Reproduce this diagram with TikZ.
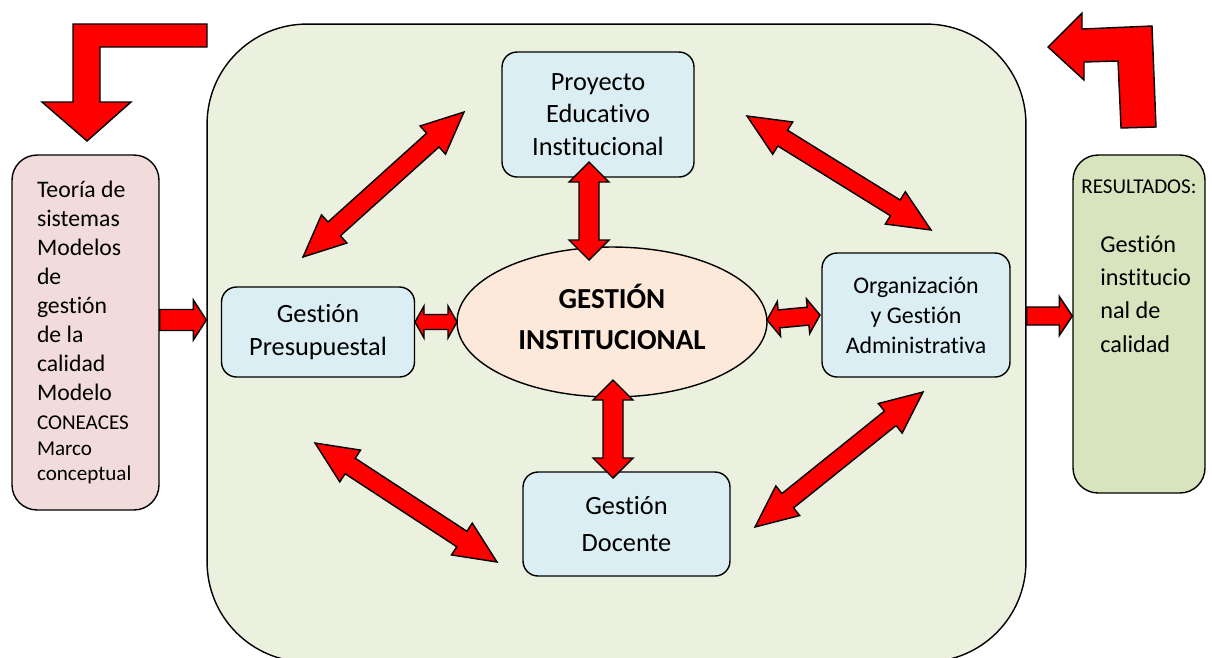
\documentclass[tikz,border=0pt]{standalone}
\usepackage{fontspec}
\setmainfont{Carlito}[Ligatures=NoCommon]
\usetikzlibrary{calc,shapes.geometric}
\definecolor{panel}{HTML}{EBF1DE}
\definecolor{unitblue}{HTML}{DAEEF3}
\definecolor{corepeach}{HTML}{FDE9D9}
\definecolor{inpink}{HTML}{F2DCDB}
\definecolor{outgreen}{HTML}{D7E4BD}
\definecolor{arrred}{HTML}{FF0000}

% block arrow with a head at both ends: ends, head length, half head, half shaft
\newcommand{\twoway}[5]{%
  \draw[blk] (#1)
    -- ($(#1)!#3!(#2)!#4!90:(#2)$) -- ($(#1)!#3!(#2)!#5!90:(#2)$)
    -- ($(#2)!#3!(#1)!#5!-90:(#1)$) -- ($(#2)!#3!(#1)!#4!-90:(#1)$)
    -- (#2)
    -- ($(#2)!#3!(#1)!#4!90:(#1)$) -- ($(#2)!#3!(#1)!#5!90:(#1)$)
    -- ($(#1)!#3!(#2)!#5!-90:(#2)$) -- ($(#1)!#3!(#2)!#4!-90:(#2)$)
    -- cycle;}
% block arrow with one head, at the second end
\newcommand{\oneway}[5]{%
  \draw[blk] ($(#1)!#5!90:(#2)$)
    -- ($(#2)!#3!(#1)!#5!-90:(#1)$) -- ($(#2)!#3!(#1)!#4!-90:(#1)$)
    -- (#2)
    -- ($(#2)!#3!(#1)!#4!90:(#1)$) -- ($(#2)!#3!(#1)!#5!90:(#1)$)
    -- ($(#1)!#5!-90:(#2)$) -- cycle;}

\begin{document}
\begin{tikzpicture}[x=0.02cm,y=-0.02cm,
  frame/.style={draw,fill=panel,line width=0.8pt,rounded corners=2cm,
                minimum width=16.38cm,minimum height=12.76cm},
  unit/.style={draw,fill=unitblue,line width=0.8pt,rounded corners=0.3cm,
               align=center,inner sep=0pt,font=\fontsize{15}{18.5}\selectfont},
  side/.style={draw,line width=0.8pt,rounded corners=0.5cm,inner sep=0pt},
  blk/.style={draw,fill=arrred,line width=0.8pt,line join=miter}]

\useasboundingbox (0,0) rectangle (1212,657);
\clip (0,0) rectangle (1212,657);

% ---------------- frame and the four areas ---------------------------------
\node[frame] (frame) at (616.5,343) {};

\node[unit,minimum width=3.84cm,minimum height=2.5cm] (pei) at (598,114.5)
  {Proyecto\\Educativo\\Institucional};
\node[unit,minimum width=3.86cm,minimum height=1.8cm] (pres) at (318,332)
  {Gestión\\Presupuestal};
\node[unit,minimum width=3.76cm,minimum height=2.48cm,
      font=\fontsize{13.6}{17}\selectfont] (org) at (916,315)
  {Organización\\y Gestión\\Administrativa};
\node[unit,minimum width=4.14cm,minimum height=2.08cm,
      font=\fontsize{15}{21}\selectfont] (doc) at (626.5,524)
  {Gestión\\Docente};

\node[ellipse,draw,fill=corepeach,line width=0.8pt,inner sep=0pt,
      minimum width=6.2cm,minimum height=3cm] (core) at (612,322) {};
\node[align=center,inner sep=0pt,font=\fontsize{16.5}{23}\selectfont\bfseries]
  (coretext) at ($(core.center)+(0,-5)$) {GESTIÓN\\INSTITUCIONAL};

% ---------------- input and result ------------------------------------------
\node[side,fill=inpink,minimum width=2.94cm,minimum height=7.1cm,
      text width=1.94cm,align=flush left,font=\fontsize{13.5}{16.5}\selectfont]
  (lit) at (85.5,332.5)
  {Teoría de\\ sistemas\\ Modelos\\ de\\ gestión\\ de la\\ calidad\\ Modelo\\
   {\fontsize{12}{14}\selectfont CONEACES}\\[-2pt]
   {\fontsize{12}{14}\selectfont Marco}\\[-2pt]
   {\fontsize{12}{14}\selectfont conceptual}};

\node[side,fill=outgreen,minimum width=2.64cm,minimum height=6.76cm] (res)
  at (1139,324) {};
\node[anchor=base west,inner sep=0pt,font=\fontsize{12}{14}\selectfont]
  (restitle) at (1081,193) {RESULTADOS:};
\node[anchor=north west,inner sep=0pt,text width=2cm,align=flush left,
      font=\fontsize{13.8}{19}\selectfont] (resbody) at (1100,235)
  {Gestión\\ institucio\\ nal de\\ calidad};

% ---------------- turning arrows above the side boxes ----------------------
\draw[blk] (207,24) -- (73,24) -- (73,102) -- (42,102) -- (87,141)
  -- (131,102) -- (100,102) -- (100,47) -- (207,47) -- cycle;
\draw[blk] (1121,128) -- (1118,61) -- (1084,62) -- (1084,80) -- (1048,47)
  -- (1082,13) -- (1082,29) -- (1152,26) -- (1156,127) -- cycle;

% ---------------- in and out of the frame -----------------------------------
\coordinate (in1) at (lit.east |- 0,320);
\coordinate (in2) at (frame.west |- 0,320);
\oneway{in1}{in2}{0.26cm}{0.4cm}{0.21cm}
\coordinate (out1) at (frame.east |- 0,316);
\coordinate (out2) at (res.west |- 0,316);
\oneway{out1}{out2}{0.26cm}{0.39cm}{0.18cm}

% ---------------- links to the core ----------------------------------------
\coordinate (pc1) at (589,162);   \coordinate (pc2) at (589,260);
\coordinate (dc1) at (613,380);   \coordinate (dc2) at (613,478);
\coordinate (bc1) at (415,322);   \coordinate (bc2) at (457,322);
\coordinate (oc1) at (767,320);   \coordinate (oc2) at (820,315);
\twoway{pc1}{pc2}{0.4cm}{0.4cm}{0.2cm}
\twoway{dc1}{dc2}{0.4cm}{0.4cm}{0.2cm}
\twoway{bc1}{bc2}{0.18cm}{0.32cm}{0.15cm}
\twoway{oc1}{oc2}{0.24cm}{0.35cm}{0.18cm}

% ---------------- links round the ring --------------------------------------
\coordinate (tl1) at (303,257);   \coordinate (tl2) at (464,112);
\coordinate (tr1) at (747,116);   \coordinate (tr2) at (931,230);
\coordinate (bl1) at (315,443);   \coordinate (bl2) at (497,562);
\coordinate (br1) at (755,527);   \coordinate (br2) at (923,392);
\foreach \a/\b in {tl1/tl2,tr1/tr2,bl1/bl2,br1/br2}
  \twoway{\a}{\b}{0.84cm}{0.38cm}{0.185cm};

\end{tikzpicture}
\end{document}
